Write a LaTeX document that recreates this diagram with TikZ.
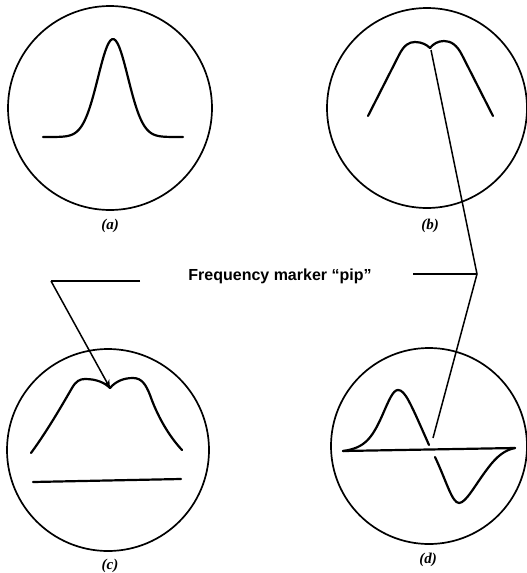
\documentclass[tikz,border=0pt]{standalone}
\usepackage{fontspec}
\setmainfont{Liberation Serif}
\setsansfont{Liberation Sans}
\usetikzlibrary{arrows.meta}
\begin{document}
\begin{tikzpicture}[x=1pt,y=-1pt,
  screen/.style={line width=1.7pt},
  trace/.style={line width=2.2pt,line join=round,line cap=round},
  pointer/.style={line width=1.5pt},
  figlabel/.style={font=\bfseries\itshape\fontsize{15}{15}\selectfont},
  marker/.style={font=\sffamily\bfseries\fontsize{16}{16}\selectfont}]
\useasboundingbox (0,0) rectangle (527,573);
% screens
\draw[screen] (110,108) circle[radius=102pt];
\draw[screen] (427,108) circle[radius=100pt];
\draw[screen] (108,450) circle[radius=101pt];
\draw[screen] (429,446) circle[radius=98pt];
% (a) single peak
\draw[trace] plot[smooth,domain=43:183,samples=80] (\x,{137-98*exp(-((\x-113)/15)^2/2)});
% (b) double-hump
\draw[trace] (368,116) -- (399,55) .. controls (404,45) and (409,42) .. (415,42)
  .. controls (422,42) and (427,45) .. (430,48)
  .. controls (433,44) and (438,41) .. (444,41)
  .. controls (451,41) and (457,45) .. (462,55) -- (493,116);
% (c) trace with marker
\draw[trace] (31,453) .. controls (48,430) and (65,400) .. (72,388)
  .. controls (76,381) and (80,379) .. (85,379)
  .. controls (97,379) and (105,383) .. (110,388)
  .. controls (116,381) and (124,378) .. (133,378)
  .. controls (142,378) and (146,385) .. (150,395)
  .. controls (157,415) and (168,435) .. (182,450);
\draw[trace] (33,482) -- (181,479);
% (d) discriminator S curve
\draw[trace] (343,451) -- (515,448);
\draw[trace] (343,451) .. controls (365,448) and (372,438) .. (382,416)
  .. controls (389,400) and (393,390) .. (398,390)
  .. controls (405,390) and (410,402) .. (429,445);
\draw[trace] (435,457) .. controls (446,480) and (452,503) .. (459,503)
  .. controls (466,503) and (475,485) .. (488,468)
  .. controls (497,456) and (505,450) .. (515,448);
% captions
\node[figlabel] (la) at (110,226) {(a)};
\node[figlabel] (lb) at (430,226) {(b)};
\node[figlabel] (lc) at (110,566) {(c)};
\node[figlabel] (ld) at (428,560) {(d)};
% marker label and pointers
\node[marker] (pip) at (280,276) {Frequency marker “pip”};
\coordinate (lend) at (140,281);
\coordinate (lcorner) at (51,281);
\coordinate (cdip) at (110,388);
\coordinate (rend) at (413,274);
\coordinate (rcorner) at (477,274);
\coordinate (bdip) at (431,50);
\coordinate (dmark) at (433,438);
\draw[pointer] (lend) -- (lcorner);
\draw[pointer,-{Stealth[length=8pt,width=7pt]}] (lcorner) -- (cdip);
\draw[pointer] (rend) -- (rcorner);
\draw[pointer] (bdip) -- (rcorner) -- (dmark);
\end{tikzpicture}
\end{document}
